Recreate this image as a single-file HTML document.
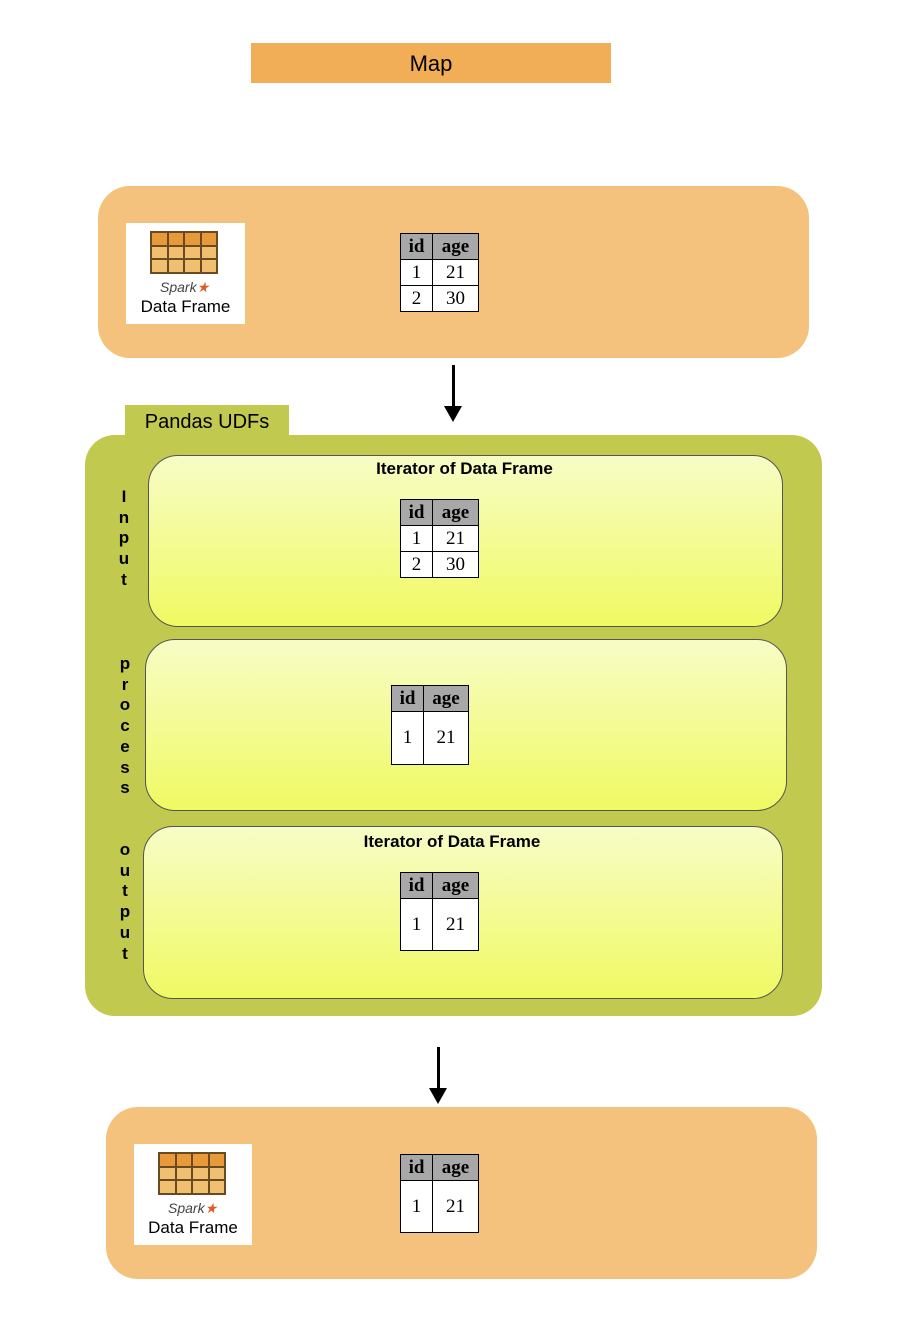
<!DOCTYPE html>
<html><head><style>
body{margin:0;width:908px;height:1342px;background:#fff;position:relative;font-family:"Comic Sans MS","Liberation Sans",sans-serif;overflow:hidden}
.a{position:absolute}
.org{background:#f5c27d;border-radius:32px}
.pan{border:1px solid #555;border-radius:30px;background:linear-gradient(#f7fcc6,#f0fa62)}
table{position:absolute;border-collapse:collapse;font-family:"Liberation Serif",serif;font-size:19px;background:#fff}
td{border:1.5px solid #000;text-align:center;padding:0}
td.h{background:#a8a8a8;font-weight:bold}
.lbl{font-family:"Liberation Sans",sans-serif;font-weight:bold;font-size:17px}
.vt{font-family:"Liberation Sans",sans-serif;font-weight:bold;font-size:17px;width:20px;text-align:center;line-height:20.7px}
.logo{background:#fff}
.grid{position:absolute;left:24px;top:8px;width:66px;height:41px;border:1px solid #6a4a20;display:grid;grid-template-columns:repeat(4,1fr);grid-template-rows:repeat(3,1fr)}
.grid div{border:0.5px solid #6a4a20;background:#f0c070}
.grid div.t{background:#e89a3a}
</style></head><body>
<div class="a" style="left:251px;top:43px;width:360px;height:40px;background:#f2ae57;text-align:center;line-height:42px;font-size:22px">Map</div>

<div class="a org" style="left:98px;top:186px;width:711px;height:172px"></div>
<div class="a logo" style="left:126px;top:223px;width:119px;height:101px">
<div class="grid"><div class="t"></div><div class="t"></div><div class="t"></div><div class="t"></div><div></div><div></div><div></div><div></div><div></div><div></div><div></div><div></div></div>
<div class="a" style="left:34px;top:56px;font-size:14px;font-style:italic;color:#444">Spark<span style="color:#e2592a">★</span></div>
<div class="a" style="left:0;width:119px;top:74px;text-align:center;font-size:17px">Data Frame</div></div>
<table style="left:400px;top:233px;width:79px"><tr style="height:26px"><td class="h" style="width:31px">id</td><td class="h">age</td></tr><tr style="height:26px"><td>1</td><td>21</td></tr><tr style="height:26px"><td>2</td><td>30</td></tr></table>

<div class="a" style="left:452px;top:365px;width:3px;height:44px;background:#000"></div>
<div class="a" style="left:444px;top:406px;border-left:9px solid transparent;border-right:9px solid transparent;border-top:16px solid #000"></div>

<div class="a" style="left:125px;top:405px;width:164px;height:40px;background:#c2c94f;font-size:20px;text-align:center;line-height:34px">Pandas UDFs</div>
<div class="a" style="left:85px;top:435px;width:737px;height:581px;background:#c2c94f;border-radius:30px"></div>

<div class="a pan" style="left:148px;top:455px;width:633px;height:170px"></div>
<div class="a lbl" style="left:148px;width:633px;top:459px;text-align:center">Iterator of Data Frame</div>
<table style="left:400px;top:499px;width:79px"><tr style="height:26px"><td class="h" style="width:31px">id</td><td class="h">age</td></tr><tr style="height:26px"><td>1</td><td>21</td></tr><tr style="height:26px"><td>2</td><td>30</td></tr></table>
<div class="a vt" style="left:114px;top:487px">I<br>n<br>p<br>u<br>t</div>

<div class="a pan" style="left:145px;top:639px;width:640px;height:170px"></div>
<table style="left:391px;top:685px;width:78px"><tr style="height:26px"><td class="h" style="width:31px">id</td><td class="h">age</td></tr><tr style="height:53px"><td>1</td><td>21</td></tr></table>
<div class="a vt" style="left:115px;top:654px">p<br>r<br>o<br>c<br>e<br>s<br>s</div>

<div class="a pan" style="left:143px;top:826px;width:638px;height:171px"></div>
<div class="a lbl" style="left:143px;width:618px;top:832px;text-align:center">Iterator of Data Frame</div>
<table style="left:400px;top:872px;width:79px"><tr style="height:26px"><td class="h" style="width:31px">id</td><td class="h">age</td></tr><tr style="height:52px"><td>1</td><td>21</td></tr></table>
<div class="a vt" style="left:115px;top:840px">o<br>u<br>t<br>p<br>u<br>t</div>

<div class="a" style="left:437px;top:1047px;width:3px;height:44px;background:#000"></div>
<div class="a" style="left:429px;top:1088px;border-left:9px solid transparent;border-right:9px solid transparent;border-top:16px solid #000"></div>

<div class="a org" style="left:106px;top:1107px;width:711px;height:172px"></div>
<div class="a logo" style="left:134px;top:1144px;width:118px;height:101px">
<div class="grid"><div class="t"></div><div class="t"></div><div class="t"></div><div class="t"></div><div></div><div></div><div></div><div></div><div></div><div></div><div></div><div></div></div>
<div class="a" style="left:34px;top:56px;font-size:14px;font-style:italic;color:#444">Spark<span style="color:#e2592a">★</span></div>
<div class="a" style="left:0;width:118px;top:74px;text-align:center;font-size:17px">Data Frame</div></div>
<table style="left:400px;top:1154px;width:79px"><tr style="height:26px"><td class="h" style="width:31px">id</td><td class="h">age</td></tr><tr style="height:52px"><td>1</td><td>21</td></tr></table>
</body></html>
